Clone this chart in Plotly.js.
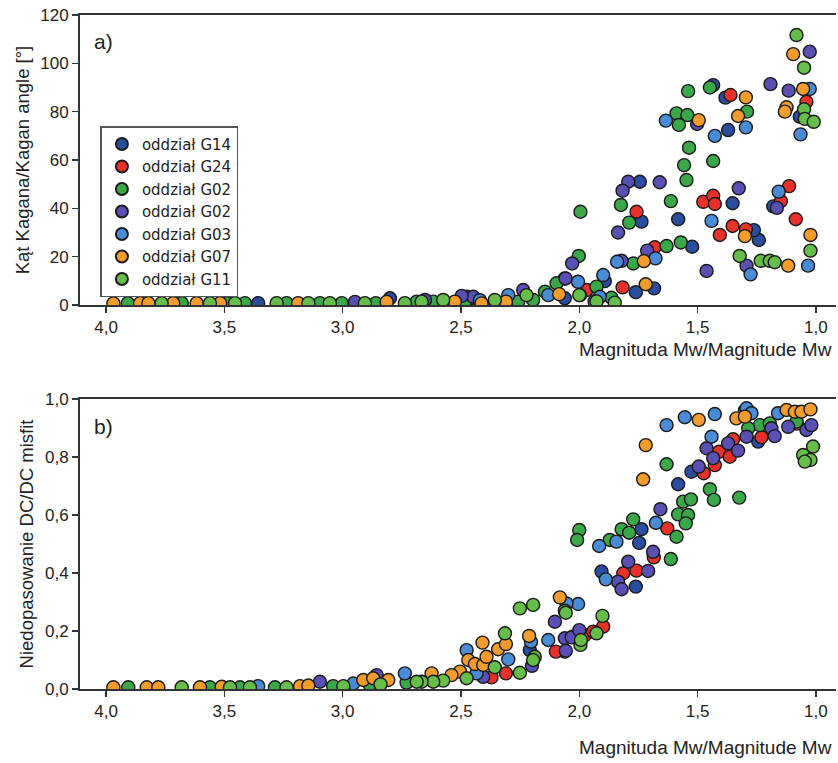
<!DOCTYPE html>
<html>
<head>
<meta charset="utf-8">
<script src="https://cdn.plot.ly/plotly-3.0.1.min.js"></script>
<style>html,body{margin:0;padding:0;background:#fff;}#chart{width:838px;height:763px;}</style>
</head>
<body>
<div id="chart"></div>
<script>
// Series names
const seriesNames = ["oddział G14","oddział G24","oddział G02","oddział G02","oddział G03","oddział G07","oddział G11"];

// Panel a) Kagan angle
const aX_G14 = [1.434,1.382,1.068,1.371,1.744,1.737,1.582,1.352,1.180,1.241,1.262,1.523,1.761,1.684,1.892,2.061,2.061,2.476,3.357,2.44,2.80];
const aY_G14 = [91.0,85.8,77.9,72.4,51.0,34.5,35.5,42.1,40.8,26.9,31.0,24.1,5.3,6.9,9.9,11.0,2.8,3.4,0.8,2.5,2.8];
const aX_G24 = [1.040,1.361,1.758,1.476,1.434,1.427,1.148,1.113,1.085,1.406,1.352,1.296,1.681,1.817,1.969,2.36];
const aY_G24 = [84.1,86.9,38.6,42.7,45.2,41.8,43.0,49.2,35.5,29.0,32.7,31.3,23.9,7.3,6.2,1.0];
const aX_G02 = [1.540,1.448,1.291,1.589,1.543,1.579,1.536,1.434,1.557,1.547,1.824,1.613,1.789,1.995,2.002,1.631,1.571,1.772,1.927,1.997,1.864,2.096,2.145,3.908,3.680,3.490,3.413,3.237,3.096,3.004,2.860,2.687,2.617,2.483,2.258,2.195];
const aY_G02 = [88.5,90.0,80.0,79.3,78.6,74.5,65.1,59.6,57.9,51.7,41.4,43.0,34.1,38.6,20.3,24.4,25.9,17.2,7.6,4.1,3.0,9.0,5.5,0.8,0.8,0.8,0.8,0.8,0.8,0.8,0.8,1.4,1.4,1.4,1.4,2.1];
const aX_G02b = [1.026,1.192,1.115,1.502,1.793,1.817,1.660,1.836,1.326,1.165,1.293,1.462,1.713,1.821,2.030,2.058,2.237,2.448,2.497,2.652,2.948];
const aY_G02b = [104.8,91.4,88.7,74.9,51.0,47.3,50.8,30.0,48.3,40.2,16.3,14.1,22.5,18.3,17.2,11.0,6.2,3.4,3.8,2.1,1.3];
const aX_G03 = [1.026,1.065,1.296,1.427,1.634,1.441,1.157,1.033,1.276,1.678,1.840,1.899,2.005,1.913,2.131,2.300,1.935,2.42];
const aY_G03 = [89.4,70.6,73.5,70.0,76.3,34.8,46.9,16.3,12.7,19.3,17.9,12.4,9.6,3.4,4.1,4.1,1.5,2.0];
const aX_G07 = [1.096,1.054,1.124,1.131,1.296,1.329,1.495,1.300,1.023,1.117,1.727,1.719,2.085,2.310,2.413,2.526,3.969,3.856,3.821,3.716,3.617,3.518,3.188,2.814];
const aY_G07 = [103.8,89.4,81.8,80.0,85.9,78.2,76.5,28.5,29.0,16.3,18.2,8.6,4.5,1.4,0.7,1.4,0.7,0.8,0.8,0.8,0.8,0.8,0.8,1.3];
const aX_G11 = [1.082,1.050,1.050,1.047,1.009,1.023,1.322,1.233,1.195,1.174,2.000,1.927,3.765,3.561,3.455,3.279,3.145,3.054,2.906,2.737,2.666,2.575,2.357,2.223,1.850];
const aY_G11 = [111.7,98.2,81.0,77.0,75.8,22.5,20.3,18.3,18.3,17.7,4.1,1.5,0.8,0.8,0.8,0.8,0.8,0.8,0.8,0.8,1.4,2.1,2.1,4.1,1.0];

// Panel b) DC misfit
const bX_G14 = [1.300,1.244,1.526,1.582,1.737,1.747,1.906,1.761,2.061,2.209];
const bY_G14 = [0.960,0.853,0.749,0.706,0.551,0.504,0.405,0.353,0.129,0.134];
const bX_G24 = [1.230,1.350,1.409,1.364,1.427,1.474,1.628,1.685,1.814,1.758,1.899,1.976,1.941,2.099,2.310,2.371,1.080];
const bY_G24 = [0.868,0.861,0.818,0.801,0.772,0.744,0.554,0.454,0.399,0.408,0.215,0.186,0.198,0.129,0.054,0.040,0.915];
const bX_G02 = [1.237,1.286,1.195,1.082,1.631,1.448,1.431,1.324,1.561,1.528,1.582,1.540,1.550,1.589,1.772,1.821,1.789,1.871,2.000,2.009,1.613,3.906,3.561,3.434,3.286,3.040,2.885,2.730];
const bY_G02 = [0.910,0.899,0.916,0.922,0.775,0.689,0.652,0.660,0.646,0.654,0.602,0.600,0.571,0.525,0.585,0.551,0.539,0.514,0.548,0.514,0.448,0.006,0.006,0.006,0.006,0.010,0.014,0.022];
const bX_G02b = [1.188,1.117,1.040,1.019,1.293,1.174,1.371,1.329,1.462,1.434,1.495,1.657,1.688,1.793,1.709,1.836,1.821,2.028,2.061,2.103,2.032,2.000,2.057,2.406,3.096,2.856,2.200];
const bY_G02b = [0.899,0.904,0.893,0.910,0.870,0.872,0.847,0.822,0.830,0.796,0.767,0.620,0.473,0.439,0.407,0.370,0.344,0.180,0.175,0.232,0.178,0.203,0.132,0.042,0.025,0.048,0.080];
const bX_G03 = [1.293,1.272,1.160,1.441,1.631,1.554,1.427,1.676,1.843,1.916,1.888,2.005,2.054,2.131,2.204,2.476,2.300,2.434,2.955,2.737,3.357];
const bY_G03 = [0.968,0.951,0.951,0.870,0.910,0.937,0.948,0.573,0.508,0.493,0.378,0.293,0.295,0.169,0.163,0.134,0.102,0.054,0.019,0.054,0.010];
const bX_G07 = [1.336,1.300,1.124,1.089,1.061,1.023,1.495,1.719,1.730,2.082,2.212,2.409,2.343,2.310,2.469,2.441,2.406,2.392,2.504,2.540,2.624,3.969,3.828,3.779,3.603,3.511,3.180,3.145,2.913,2.871,2.807];
const bY_G07 = [0.933,0.939,0.962,0.956,0.956,0.964,0.928,0.841,0.723,0.316,0.183,0.160,0.137,0.155,0.100,0.086,0.083,0.111,0.060,0.048,0.054,0.006,0.006,0.006,0.006,0.008,0.010,0.012,0.031,0.037,0.031];
const bX_G11 = [1.012,1.054,1.023,1.047,2.061,1.902,1.927,1.995,2.251,2.195,2.057,1.993,2.314,2.188,2.195,2.357,2.251,2.476,2.575,2.617,2.666,3.680,3.476,3.392,3.237,2.997,2.840,2.687];
const bY_G11 = [0.836,0.807,0.790,0.784,0.270,0.252,0.192,0.152,0.278,0.290,0.263,0.169,0.192,0.111,0.100,0.075,0.056,0.037,0.029,0.025,0.025,0.006,0.006,0.006,0.006,0.010,0.016,0.025];

const colors = ["#2a4d9f","#e8312b","#3aa848","#5a4fb3","#4a8bd6","#f39c2e","#66bd4a"];

const aSets = [[aX_G14,aY_G14],[aX_G24,aY_G24],[aX_G02,aY_G02],[aX_G02b,aY_G02b],[aX_G03,aY_G03],[aX_G07,aY_G07],[aX_G11,aY_G11]];
const bSets = [[bX_G14,bY_G14],[bX_G24,bY_G24],[bX_G02,bY_G02],[bX_G02b,bY_G02b],[bX_G03,bY_G03],[bX_G07,bY_G07],[bX_G11,bY_G11]];

const traces = [];
aSets.forEach((s,i)=>{
  traces.push({type:"scatter",mode:"markers",x:s[0],y:s[1],xaxis:"x",yaxis:"y",name:seriesNames[i],
    marker:{size:13,color:colors[i],line:{color:"#1a1a1a",width:1.4}},showlegend:true});
});
bSets.forEach((s,i)=>{
  traces.push({type:"scatter",mode:"markers",x:s[0],y:s[1],xaxis:"x2",yaxis:"y2",name:seriesNames[i],
    marker:{size:13,color:colors[i],line:{color:"#1a1a1a",width:1.4}},showlegend:false});
});

const FONT = "Liberation Sans, Arial, sans-serif";
const axCommon = {showline:true,linecolor:"#333",linewidth:2,ticks:"outside",ticklen:6,tickwidth:1.5,tickcolor:"#333",
  showgrid:false,zeroline:false,tickfont:{family:FONT,size:17,color:"#222"}};

const layout = {
  width:838,height:763,
  paper_bgcolor:"#fff",plot_bgcolor:"#fff",
  margin:{l:80,r:2,t:15,b:74},
  separators:",.",
  showlegend:true,
  font:{family:FONT,color:"#222"},
  xaxis:Object.assign({},axCommon,{domain:[0,1],anchor:"y",range:[4.11,0.915],tickvals:[4,3.5,3,2.5,2,1.5,1],tickformat:".1f",mirror:true}),
  yaxis:Object.assign({},axCommon,{domain:[0.5697,1],anchor:"x",range:[0,120],tickvals:[0,20,40,60,80,100,120],
    title:{text:"Kąt Kagana/Kagan angle [°]",font:{family:FONT,size:18.5,color:"#222"},standoff:6}}),
  xaxis2:Object.assign({},axCommon,{domain:[0,1],anchor:"y2",range:[4.11,0.915],tickvals:[4,3.5,3,2.5,2,1.5,1],tickformat:".1f",mirror:true}),
  yaxis2:Object.assign({},axCommon,{domain:[0,0.4303],anchor:"x2",range:[0,1],tickvals:[0,0.2,0.4,0.6,0.8,1.0],tickformat:".1f",
    title:{text:"Niedopasowanie DC/DC misfit",font:{family:FONT,size:18.5,color:"#222"},standoff:6}}),
  legend:{x:0.027,y:0.835,xanchor:"left",yanchor:"top",bgcolor:"#fff",bordercolor:"#555",borderwidth:1.5,
    font:{family:"DejaVu Sans, sans-serif",size:15,color:"#222"},itemsizing:"constant",itemwidth:30,tracegroupgap:0},
  annotations:[
    {xref:"paper",yref:"paper",x:0.997,y:0.503,xanchor:"right",yanchor:"middle",showarrow:false,
      text:"Magnituda Mw/Magnitude Mw",font:{family:FONT,size:19,color:"#222"}},
    {xref:"paper",yref:"paper",x:0.997,y:-0.0875,xanchor:"right",yanchor:"middle",showarrow:false,
      text:"Magnituda Mw/Magnitude Mw",font:{family:FONT,size:19,color:"#222"}},
    {xref:"paper",yref:"paper",x:0.016,y:0.96,xanchor:"left",yanchor:"middle",showarrow:false,
      text:"a)",font:{family:FONT,size:21,color:"#222"}},
    {xref:"paper",yref:"paper",x:0.016,y:0.389,xanchor:"left",yanchor:"middle",showarrow:false,
      text:"b)",font:{family:FONT,size:21,color:"#222"}}
  ]
};

Plotly.newPlot("chart",traces,layout,{displayModeBar:false,staticPlot:true});
</script>
</body>
</html>
